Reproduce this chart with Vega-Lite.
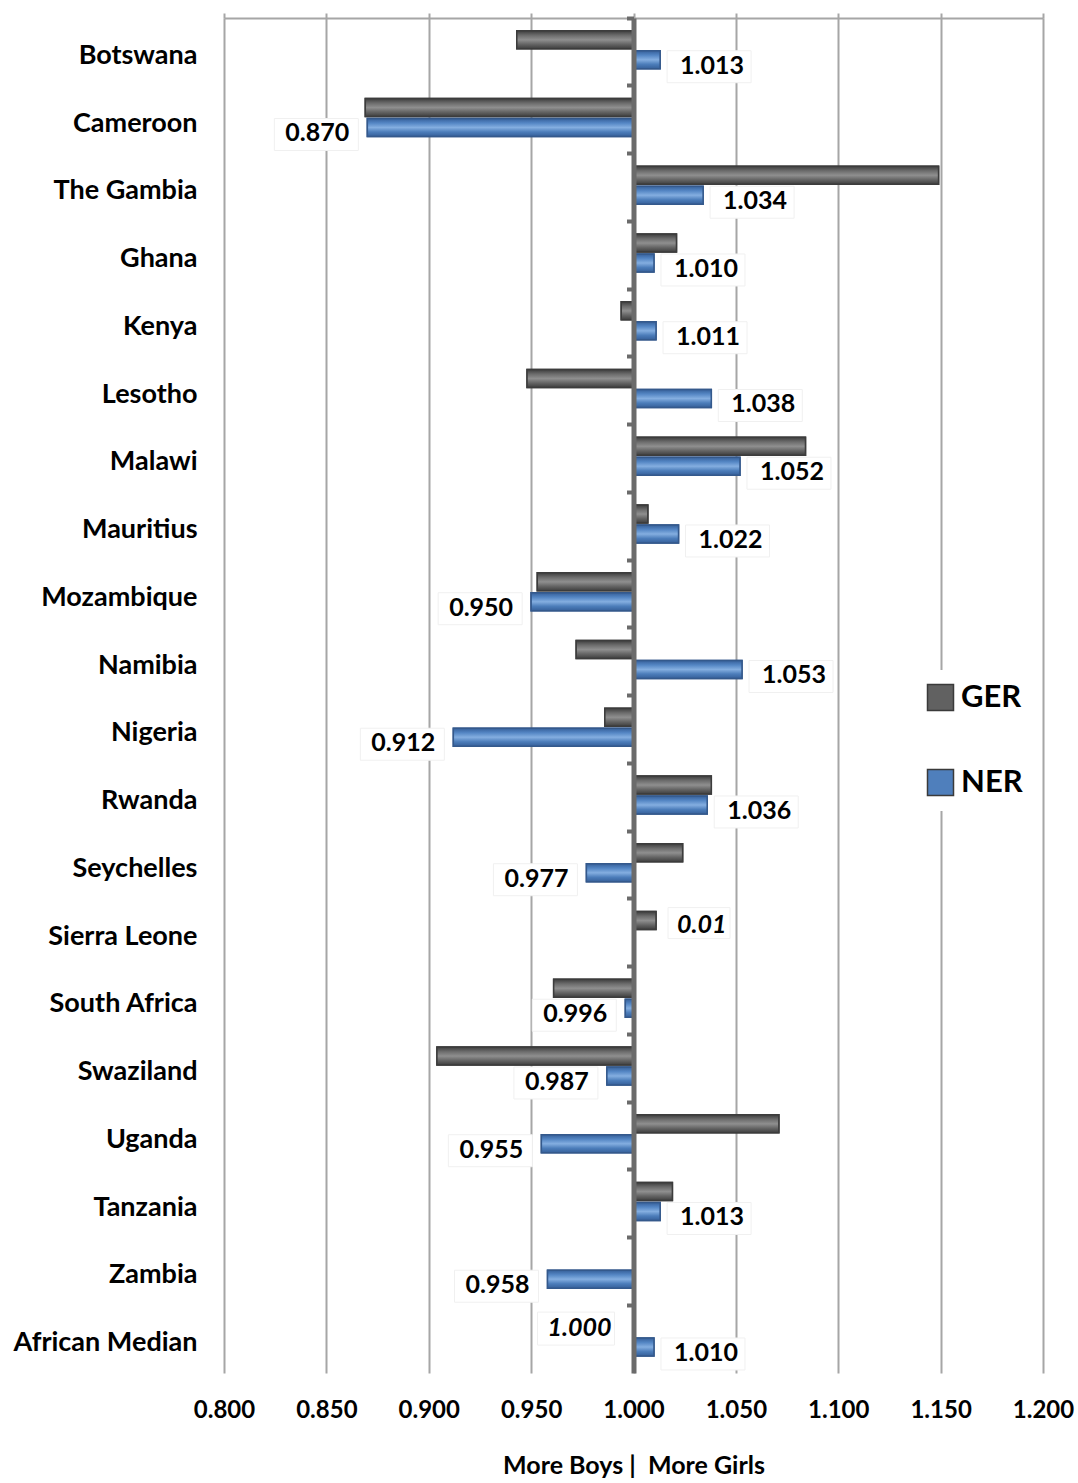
{
  "$schema": "https://vega.github.io/schema/vega-lite/v6.json",
  "width": 819,
  "height": 1355,
  "autosize": {"type": "none"},
  "padding": {"left": 224, "top": 18, "right": 35, "bottom": 110},
  "background": "white",
  "config": {"view": {"stroke": null}, "font": "Lato", "text": {"font": "Lato"}},
  "data": {
    "values": [
      {"country": "Botswana", "series": "GER", "value": 0.943},
      {"country": "Botswana", "series": "NER", "value": 1.013, "label": "1.013"},
      {"country": "Cameroon", "series": "GER", "value": 0.869},
      {"country": "Cameroon", "series": "NER", "value": 0.870, "label": "0.870"},
      {"country": "The Gambia", "series": "GER", "value": 1.149},
      {"country": "The Gambia", "series": "NER", "value": 1.034, "label": "1.034"},
      {"country": "Ghana", "series": "GER", "value": 1.021},
      {"country": "Ghana", "series": "NER", "value": 1.010, "label": "1.010"},
      {"country": "Kenya", "series": "GER", "value": 0.994},
      {"country": "Kenya", "series": "NER", "value": 1.011, "label": "1.011"},
      {"country": "Lesotho", "series": "GER", "value": 0.948},
      {"country": "Lesotho", "series": "NER", "value": 1.038, "label": "1.038"},
      {"country": "Malawi", "series": "GER", "value": 1.084},
      {"country": "Malawi", "series": "NER", "value": 1.052, "label": "1.052"},
      {"country": "Mauritius", "series": "GER", "value": 1.007},
      {"country": "Mauritius", "series": "NER", "value": 1.022, "label": "1.022"},
      {"country": "Mozambique", "series": "GER", "value": 0.953},
      {"country": "Mozambique", "series": "NER", "value": 0.950, "label": "0.950"},
      {"country": "Namibia", "series": "GER", "value": 0.972},
      {"country": "Namibia", "series": "NER", "value": 1.053, "label": "1.053"},
      {"country": "Nigeria", "series": "GER", "value": 0.986},
      {"country": "Nigeria", "series": "NER", "value": 0.912, "label": "0.912"},
      {"country": "Rwanda", "series": "GER", "value": 1.038},
      {"country": "Rwanda", "series": "NER", "value": 1.036, "label": "1.036"},
      {"country": "Seychelles", "series": "GER", "value": 1.024},
      {"country": "Seychelles", "series": "NER", "value": 0.977, "label": "0.977"},
      {"country": "Sierra Leone", "series": "GER", "value": 1.011, "label": "0.01"},
      {"country": "South Africa", "series": "GER", "value": 0.961},
      {"country": "South Africa", "series": "NER", "value": 0.996, "label": "0.996"},
      {"country": "Swaziland", "series": "GER", "value": 0.904},
      {"country": "Swaziland", "series": "NER", "value": 0.987, "label": "0.987"},
      {"country": "Uganda", "series": "GER", "value": 1.071},
      {"country": "Uganda", "series": "NER", "value": 0.955, "label": "0.955"},
      {"country": "Tanzania", "series": "GER", "value": 1.019},
      {"country": "Tanzania", "series": "NER", "value": 1.013, "label": "1.013"},
      {"country": "Zambia", "series": "NER", "value": 0.958, "label": "0.958"},
      {"country": "African Median", "series": "GER", "value": 1.000, "label": "1.000"},
      {"country": "African Median", "series": "NER", "value": 1.010, "label": "1.010"}
    ]
  },
  "layer": [
    {
      "mark": {"type": "bar", "strokeWidth": 1.5},
      "encoding": {
        "y": {
          "field": "country", "type": "nominal", "sort": null,
          "scale": {"paddingInner": 0, "paddingOuter": 0},
          "axis": {"orient": "left", "title": null, "domain": false, "ticks": false, "grid": false,
            "labelFontSize": 27, "labelFontWeight": "bold", "labelColor": "black", "labelPadding": 27, "labelFont": "Lato", "labelOffset": 4, "labelLimit": 400}
        },
        "yOffset": {"field": "series", "type": "nominal", "sort": ["GER", "NER"],
          "scale": {"domain": ["GER", "NER"], "paddingInner": 0.1, "paddingOuter": 0.75, "align": 0.43}},
        "x": {
          "field": "value", "type": "quantitative",
          "scale": {"domain": [0.8, 1.2], "nice": false, "zero": false},
          "axis": {"orient": "bottom", "values": [0.8, 0.85, 0.9, 0.95, 1, 1.05, 1.1, 1.15, 1.2], "format": ".3f",
            "grid": true, "gridColor": "#a6a6a6", "gridWidth": 2, "domain": false, "ticks": false,
            "labelFontSize": 24, "labelFontWeight": "bold", "labelColor": "black", "labelPadding": 25, "labelFont": "Lato",
            "labelFlush": false, "labelOverlap": false, "labelBound": false,
            "title": "More Boys |\u00a0 More Girls", "titleFontSize": 25, "titleFontWeight": "bold", "titleColor": "black",
            "titlePadding": 31, "titleFont": "Lato"}
        },
        "x2": {"datum": 1},
        "fill": {
          "field": "series", "type": "nominal",
          "scale": {"domain": ["GER", "NER"], "range": ["#616161", "#4f7fbc"]},
          "legend": {"title": null, "orient": "none", "legendX": 689, "legendY": 652,
            "fillColor": "white", "padding": 12, "symbolType": "square", "symbolSize": 676,
            "symbolStrokeColor": "#3a3a3a", "symbolStrokeWidth": 1.5,
            "labelFontSize": 31, "labelFontWeight": "bold", "labelColor": "black", "labelFont": "Lato",
            "labelOffset": 5, "rowPadding": 52, "symbolOpacity": 1}
        },
        "stroke": {"condition": {"test": "datum.series === 'GER'", "value": "#3c3c3c"}, "value": "#34598c"}
      }
    },
    {
      "transform": [{"filter": "datum.series === 'GER'"}],
      "mark": {"type": "bar", "strokeWidth": 1.5, "stroke": "#3c3c3c",
        "fill": {"gradient": "linear", "x1": 0, "y1": 0, "x2": 0, "y2": 1,
          "stops": [{"offset": 0, "color": "#3e3e3e"}, {"offset": 0.25, "color": "#6c6c6c"}, {"offset": 0.5, "color": "#8f8f8f"}, {"offset": 0.75, "color": "#646464"}, {"offset": 1, "color": "#3e3e3e"}]}},
      "encoding": {
        "y": {"field": "country", "type": "nominal", "sort": null, "axis": null},
        "yOffset": {"field": "series", "type": "nominal", "sort": ["GER", "NER"]},
        "x": {"field": "value", "type": "quantitative", "axis": null},
        "x2": {"datum": 1}
      }
    },
    {
      "transform": [{"filter": "datum.series === 'NER'"}],
      "mark": {"type": "bar", "strokeWidth": 1.5, "stroke": "#34598c",
        "fill": {"gradient": "linear", "x1": 0, "y1": 0, "x2": 0, "y2": 1,
          "stops": [{"offset": 0, "color": "#36609a"}, {"offset": 0.25, "color": "#5486c4"}, {"offset": 0.5, "color": "#84aee0"}, {"offset": 0.75, "color": "#4c7dba"}, {"offset": 1, "color": "#36609a"}]}},
      "encoding": {
        "y": {"field": "country", "type": "nominal", "sort": null, "axis": null},
        "yOffset": {"field": "series", "type": "nominal", "sort": ["GER", "NER"]},
        "x": {"field": "value", "type": "quantitative", "axis": null},
        "x2": {"datum": 1}
      }
    },
    {
      "transform": [{"filter": "datum.label != null"}],
      "mark": {"type": "point", "filled": true, "fill": "white", "stroke": "#f0f0f0", "strokeWidth": 1, "size": 10000, "opacity": 1},
      "encoding": {
        "y": {
          "field": "country", "type": "nominal", "sort": null,
          "axis": {"orient": "left", "offset": -409.5, "labels": false, "title": null, "grid": false,
            "domain": true, "domainColor": "#6b6b6b", "domainWidth": 5,
            "ticks": true, "tickColor": "#6b6b6b", "tickWidth": 4, "tickSize": 7, "bandPosition": 0, "zindex": 2}
        },
        "yOffset": {"field": "series", "type": "nominal", "sort": ["GER", "NER"]},
        "x": {
          "field": "value", "type": "quantitative",
          "axis": {"orient": "top", "values": [0.8, 0.85, 0.9, 0.95, 1, 1.05, 1.1, 1.15, 1.2], "labels": false, "title": null, "grid": false,
            "domain": true, "domainColor": "#a6a6a6", "domainWidth": 2,
            "ticks": true, "tickColor": "#a6a6a6", "tickWidth": 2, "tickSize": 5}
        },
        "shape": {
          "condition": [
            {"test": "datum.series === 'GER' && datum.value > 1", "value": "M0.24,-0.26H1.48V0.36H0.24Z"},
            {"test": "datum.series === 'GER'", "value": "M-1.92,-0.3H-0.38V0.36H-1.92Z"},
            {"test": "datum.value > 1", "value": "M0.14,-0.18H1.82V0.46H0.14Z"}
          ],
          "value": "M-1.86,-0.18H-0.18V0.46H-1.86Z"
        }
      }
    },
    {
      "transform": [{"filter": "datum.label != null && datum.series === 'NER' && datum.value > 1"}],
      "mark": {"type": "text", "align": "left", "baseline": "middle", "dx": 20, "dy": 6, "fontSize": 25, "fontWeight": "bold", "color": "black", "font": "Lato"},
      "encoding": {
        "y": {"field": "country", "type": "nominal", "sort": null, "axis": null},
        "yOffset": {"field": "series", "type": "nominal", "sort": ["GER", "NER"]},
        "x": {"field": "value", "type": "quantitative", "axis": null},
        "text": {"field": "label"}
      }
    },
    {
      "transform": [{"filter": "datum.label != null && datum.series === 'NER' && datum.value <= 1"}],
      "mark": {"type": "text", "align": "right", "baseline": "middle", "dx": -18, "dy": 6, "fontSize": 25, "fontWeight": "bold", "color": "black", "font": "Lato"},
      "encoding": {
        "y": {"field": "country", "type": "nominal", "sort": null, "axis": null},
        "yOffset": {"field": "series", "type": "nominal", "sort": ["GER", "NER"]},
        "x": {"field": "value", "type": "quantitative", "axis": null},
        "text": {"field": "label"}
      }
    },
    {
      "transform": [{"filter": "datum.label != null && datum.series === 'GER' && datum.value > 1"}],
      "mark": {"type": "text", "align": "left", "baseline": "middle", "dx": 21, "dy": 4, "fontSize": 25, "fontWeight": "bold", "fontStyle": "italic", "color": "black", "font": "Lato"},
      "encoding": {
        "y": {"field": "country", "type": "nominal", "sort": null, "axis": null},
        "yOffset": {"field": "series", "type": "nominal", "sort": ["GER", "NER"]},
        "x": {"field": "value", "type": "quantitative", "axis": null},
        "text": {"field": "label"}
      }
    },
    {
      "transform": [{"filter": "datum.label != null && datum.series === 'GER' && datum.value <= 1"}],
      "mark": {"type": "text", "align": "right", "baseline": "middle", "dx": -22, "dy": 1, "fontSize": 25, "fontWeight": "bold", "fontStyle": "italic", "color": "black", "font": "Lato"},
      "encoding": {
        "y": {"field": "country", "type": "nominal", "sort": null, "axis": null},
        "yOffset": {"field": "series", "type": "nominal", "sort": ["GER", "NER"]},
        "x": {"field": "value", "type": "quantitative", "axis": null},
        "text": {"field": "label"}
      }
    }
  ],
  "resolve": {"axis": {"x": "independent", "y": "independent"}}
}
